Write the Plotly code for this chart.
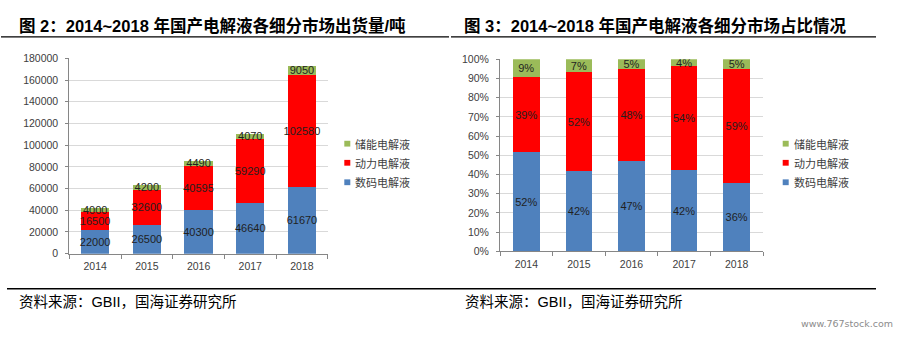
import plotly.graph_objects as go

# ---------------- data ----------------
years = ["2014", "2015", "2016", "2017", "2018"]
digital = [22000, 26500, 40300, 46640, 61670]      # 数码电解液
power = [16500, 32600, 40595, 59290, 102580]       # 动力电解液
storage = [4000, 4200, 4490, 4070, 9050]           # 储能电解液
series_names = ["数码电解液", "动力电解液", "储能电解液"]
colors = ["#4F81BD", "#FF0000", "#9BBB59"]
title_left = "图 2：2014~2018 年国产电解液各细分市场出货量/吨"
title_right = "图 3：2014~2018 年国产电解液各细分市场占比情况"
source_text = "资料来源：GBII，国海证券研究所"
watermark = "www.767stock.com"

W, H = 902, 341
totals = [a + b + c for a, b, c in zip(digital, power, storage)]
shares = [[v / t for v, t in zip(s, totals)] for s in (digital, power, storage)]
counts = [digital, power, storage]


def px(x):
    return x / W


def py(y):
    return 1 - y / H


fig = go.Figure()
label_font = dict(family="Liberation Sans, Arial, sans-serif", size=11, color="#1F1F1F")

for i in range(3):
    fig.add_trace(go.Bar(
        x=years, y=counts[i], name=series_names[i], marker_color=colors[i],
        marker_line_width=0, width=0.55, showlegend=False,
        text=[str(v) for v in counts[i]], textposition="inside",
        insidetextanchor="middle", textangle=0, constraintext="none",
        insidetextfont=label_font, xaxis="x", yaxis="y", hoverinfo="skip",
    ))
    fig.add_trace(go.Bar(
        x=years, y=shares[i], name=series_names[i], marker_color=colors[i],
        marker_line_width=0, width=0.507, showlegend=False,
        text=[f"{round(v * 100)}%" for v in shares[i]], textposition="inside",
        insidetextanchor="middle", textangle=0, constraintext="none",
        insidetextfont=label_font, xaxis="x2", yaxis="y2", hoverinfo="skip",
    ))

tick_font = dict(family="Liberation Sans, Arial, sans-serif", size=10.5, color="#404040")
axcol = "#868686"
grid = "#D9D9D9"

fig.update_layout(
    width=W, height=H, margin=dict(l=0, r=0, t=0, b=0),
    paper_bgcolor="white", plot_bgcolor="white", barmode="stack",
    xaxis=dict(domain=[px(69.3), px(327.8)], type="category", showline=True,
               linecolor=axcol, ticks="outside", ticklen=4, tickcolor=axcol,
               tickson="boundaries", tickfont=tick_font, showgrid=False,
               ticklabelstandoff=3, anchor="y"),
    yaxis=dict(domain=[py(256.7), py(54.2)], range=[0, 180000], dtick=20000,
               tickformat="d", showline=True, linecolor=axcol, ticks="outside",
               ticklen=3, tickcolor=axcol, gridcolor=grid, gridwidth=1,
               tickfont=tick_font, ticklabelstandoff=5, zeroline=False, anchor="x"),
    xaxis2=dict(domain=[px(500), px(763)], type="category", showline=True,
                linecolor=axcol, ticks="outside", ticklen=4, tickcolor=axcol,
                tickson="boundaries", tickfont=tick_font, showgrid=False,
                ticklabelstandoff=3, anchor="y2"),
    yaxis2=dict(domain=[py(254.3), py(55.3)], range=[0, 1], dtick=0.1,
                tickformat=".0%", showline=True, linecolor=axcol, ticks="outside",
                ticklen=3, tickcolor=axcol, gridcolor=grid, gridwidth=1,
                tickfont=tick_font, ticklabelstandoff=5, zeroline=False, anchor="x2"),
)

shapes = []
annotations = []

# legends (manual)
legend_order = [2, 1, 0]
leg_y = [142.7, 162.5, 182.7]
for lx, tx in ((344.3, 353.3), (782.7, 792.3)):
    for k, si in enumerate(legend_order):
        cy = leg_y[k]
        shapes.append(dict(type="rect", xref="paper", yref="paper",
                           x0=px(lx), x1=px(lx + 6), y0=py(cy + 3), y1=py(cy - 3),
                           fillcolor=colors[si], line_width=0))
        annotations.append(dict(text=series_names[si], xref="paper", yref="paper",
                                x=px(tx), y=py(cy), xanchor="left", yanchor="middle",
                                showarrow=False,
                                font=dict(family="Noto Sans CJK SC", size=11, color="#404040")))

# titles
title_font = dict(family="Liberation Sans, Noto Sans CJK SC", size=16.5, color="black", weight="bold")
for tx, t in ((16.5, title_left), (462.0, title_right)):
    annotations.append(dict(text=t, xref="paper", yref="paper", x=px(tx), y=py(20.5),
                            xanchor="left", yanchor="middle", showarrow=False, font=title_font))

# separator lines
for x0, x1, y in ((1, 449, 32), (451, 876, 32), (7, 876, 293)):
    shapes.append(dict(type="line", xref="paper", yref="paper", x0=px(x0), x1=px(x1),
                       y0=py(y), y1=py(y), line=dict(color="black", width=1.4)))

# sources
src_font = dict(family="Liberation Sans, Noto Sans CJK SC", size=14.5, color="black")
for tx in (16.7, 462.5):
    annotations.append(dict(text=source_text, xref="paper", yref="paper", x=px(tx), y=py(306.7),
                            xanchor="left", yanchor="middle", showarrow=False, font=src_font))

annotations.append(dict(text=watermark, xref="paper", yref="paper", x=px(895), y=py(329),
                        xanchor="right", yanchor="middle", showarrow=False,
                        font=dict(family="DejaVu Sans", size=9.5, color="#8C8C8C")))

fig.update_layout(shapes=shapes, annotations=annotations)
fig.write_html("out.html")
